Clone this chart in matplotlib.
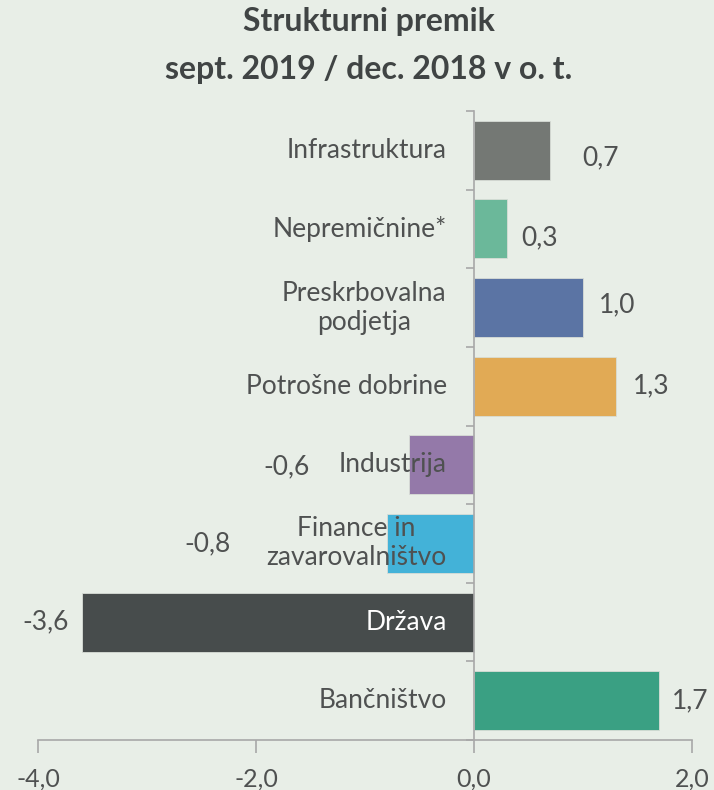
import matplotlib
matplotlib.use("Agg")
import matplotlib.pyplot as plt
import numpy as np

plt.rcParams['font.family'] = ['Lato', 'DejaVu Sans']

# sectors, top to bottom, with the change in p.p.
sectors = ["Infrastruktura", "Nepremičnine*", "Preskrbovalna\npodjetja",
           "Potrošne dobrine", "Industrija", "Finance in\nzavarovalništvo",
           "Država", "Bančništvo"]
values = [0.7, 0.3, 1.0, 1.3, -0.6, -0.8, -3.6, 1.7]
colors = ["#747874", "#6BB89A", "#5B74A4", "#E1AA55",
          "#9479A9", "#43B2D8", "#474C4C", "#3AA083"]
x_ticks = [-4, -2, 0, 2]

# where the value labels sit relative to the bar end (data units)
label_dx = [0.46, 0.30, 0.31, 0.33, -1.12, -1.645, -0.33, 0.28]
label_dy = [0.09, 0.11, -0.03, 0.0, 0.03, 0.0, 0.0, 0.0]

bg = "#E8EEE7"
txt = "#4F5151"
axis_col = "#A8A8A8"

fig = plt.figure(figsize=(7.14, 7.90), dpi=100, facecolor=bg)
ax = fig.add_axes([38 / 714, 50 / 790, 654 / 714, 629 / 790], facecolor=bg)

y = np.arange(len(sectors))
ax.barh(y, values, height=0.75, color=colors, edgecolor="#D8DDD6",
        linewidth=0.6, zorder=2)

ax.set_xlim(-4, 2)
ax.set_ylim(len(sectors) - 0.5, -0.5)

# category names just left of the zero line
for i, name in enumerate(sectors):
    c = "white" if name == "Država" else txt
    ax.text(-0.25, i, name, ha="right", va="center", multialignment="center",
            fontsize=19, color=c, zorder=3, linespacing=1.2)

# value labels
for i, v in enumerate(values):
    s = "{:.1f}".format(v).replace(".", ",")
    ax.text(v + label_dx[i], i + label_dy[i], s, ha="center", va="center",
            fontsize=19, color=txt, zorder=3)

for side in ["top", "right"]:
    ax.spines[side].set_visible(False)
ax.spines["left"].set_position(("data", 0))
ax.spines["left"].set_color(axis_col)
ax.spines["bottom"].set_color(axis_col)
ax.spines["left"].set_linewidth(1.2)
ax.spines["bottom"].set_linewidth(1.2)

ax.set_yticks([])
ax.set_yticks(np.arange(-0.5, len(sectors)), minor=True)
ax.tick_params(axis="y", which="minor", length=6, width=1.2,
               color=axis_col, labelleft=False)

ax.set_xticks(x_ticks)
ax.set_xticklabels(["{:.1f}".format(t).replace(".", ",") for t in x_ticks])
ax.tick_params(axis="x", length=9, width=1.2, color=axis_col,
               labelsize=18, labelcolor=txt, pad=11)

fig.text(369 / 714, 1 - 22 / 790, "Strukturni premik", ha="center", va="center",
         fontsize=23, fontweight="bold", color="#404444")
fig.text(369 / 714, 1 - 70 / 790, "sept. 2019 / dec. 2018 v o. t.", ha="center",
         va="center", fontsize=23, fontweight="bold", color="#404444")

fig.savefig("out.png", dpi=100, facecolor=bg)
